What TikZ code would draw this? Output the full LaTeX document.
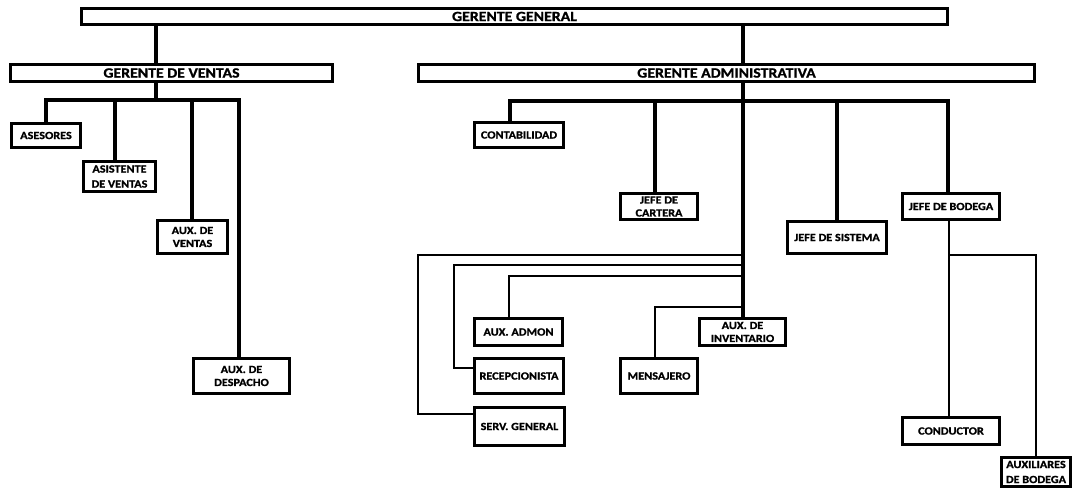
\documentclass[tikz,border=0pt]{standalone}
\usepackage{fontspec}
\setmainfont{Carlito}[FakeStretch=1.12, BoldFeatures={FakeBold=1.2}]
\begin{document}
\begin{tikzpicture}[x=1pt,y=-1pt,
  box/.style={draw, line width=3pt, fill=white, inner sep=0pt, align=center,
    font=\bfseries\fontsize{10.9}{13}\selectfont},
  widebox/.style={box, font=\bfseries\fontsize{10.9}{15}\selectfont},
  bigbox/.style={box, font=\bfseries\fontsize{14.1}{16}\selectfont},
  thk/.style={line width=4pt, line join=miter},
  thn/.style={line width=1.6pt, line join=miter}]
\useasboundingbox (0,0) rectangle (1073,489);
% nodes
\node[bigbox, minimum width=866pt, minimum height=16pt] (gg) at (514.5,16.5) {GERENTE GENERAL};
\node[bigbox, minimum width=322pt, minimum height=17pt] (gv) at (171.5,73) {GERENTE DE VENTAS};
\node[bigbox, minimum width=616pt, minimum height=17pt] (ga) at (726.5,73) {GERENTE ADMINISTRATIVA};
\node[box, minimum width=69pt, minimum height=24pt] (ases) at (46,135.5) {ASESORES};
\node[widebox, minimum width=72pt, minimum height=30pt] (asis) at (119.5,176.5) {ASISTENTE\\DE VENTAS};
\node[box, minimum width=70pt, minimum height=33pt] (auxv) at (192.5,237) {AUX. DE\\VENTAS};
\node[box, minimum width=96pt, minimum height=35pt] (desp) at (241.5,376) {AUX. DE\\DESPACHO};
\node[box, minimum width=89pt, minimum height=25pt] (cont) at (519,135) {CONTABILIDAD};
\node[box, minimum width=77pt, minimum height=26pt] (cart) at (659,206.5) {JEFE DE\\CARTERA};
\node[box, minimum width=99pt, minimum height=32pt] (sist) at (837,237.5) {JEFE DE SISTEMA};
\node[box, minimum width=97pt, minimum height=26pt] (bod) at (951,206.5) {JEFE DE BODEGA};
\node[box, minimum width=88pt, minimum height=27pt] (admon) at (518.5,332) {AUX. ADMON};
\node[box, minimum width=89pt, minimum height=35pt] (recep) at (519,376) {RECEPCIONISTA};
\node[box, minimum width=90pt, minimum height=38pt] (serv) at (519.5,426.5) {SERV. GENERAL};
\node[box, minimum width=77pt, minimum height=35pt] (mens) at (659,376) {MENSAJERO};
\node[box, minimum width=86pt, minimum height=27pt] (inv) at (742.5,332) {AUX. DE\\INVENTARIO};
\node[box, minimum width=97pt, minimum height=27pt] (cond) at (951,431) {CONDUCTOR};
\node[widebox, minimum width=69pt, minimum height=29pt] (auxb) at (1036,472) {AUXILIARES\\DE BODEGA};
% bus coordinates
\coordinate (vb) at (156,100);
\coordinate (v1) at (46,100);
\coordinate (v2) at (115,100);
\coordinate (v3) at (192,100);
\coordinate (v4) at (239,100);
\coordinate (a1) at (510,101);
\coordinate (a2) at (655,101);
\coordinate (a3) at (837,101);
\coordinate (a4) at (948,101);
\coordinate (t1) at (743,255);
\coordinate (k1) at (418,414);
\coordinate (t2) at (743,265);
\coordinate (k2) at (454,368);
\coordinate (t3) at (743,276);
\coordinate (k3) at (509,276);
\coordinate (t4) at (743,307);
\coordinate (k4) at (655,307);
\coordinate (b0) at (949,255);
\coordinate (b1) at (1036,255);
% thick connectors
\draw[thk] (gg.south -| vb) -- (vb |- gv.north);
\draw[thk] (gg.south -| inv.north) -- (ga.north -| inv.north);
\draw[thk] (gv.south -| vb) -- (vb);
\draw[thk] (v1 |- ases.north) -- (v1) -- (v4) -- (v4 |- desp.north);
\draw[thk] (v2) -- (v2 |- asis.north);
\draw[thk] (v3) -- (v3 |- auxv.north);
\draw[thk] (ga.south -| inv.north) -- (inv.north);
\draw[thk] (a1 |- cont.north) -- (a1) -- (a4) -- (a4 |- bod.north);
\draw[thk] (a2) -- (a2 |- cart.north);
\draw[thk] (a3) -- (a3 |- sist.north);
% thin connectors
\draw[thn] (t1) -| (k1) -- (k1 -| serv.west);
\draw[thn] (t2) -| (k2) -- (k2 -| recep.west);
\draw[thn] (t3) -- (k3) -- (k3 |- admon.north);
\draw[thn] (t4) -- (k4) -- (k4 |- mens.north);
\draw[thn] (b0 |- bod.south) -- (b0 |- cond.north);
\draw[thn] (b0) -- (b1) -- (b1 |- auxb.north);
\end{tikzpicture}
\end{document}
